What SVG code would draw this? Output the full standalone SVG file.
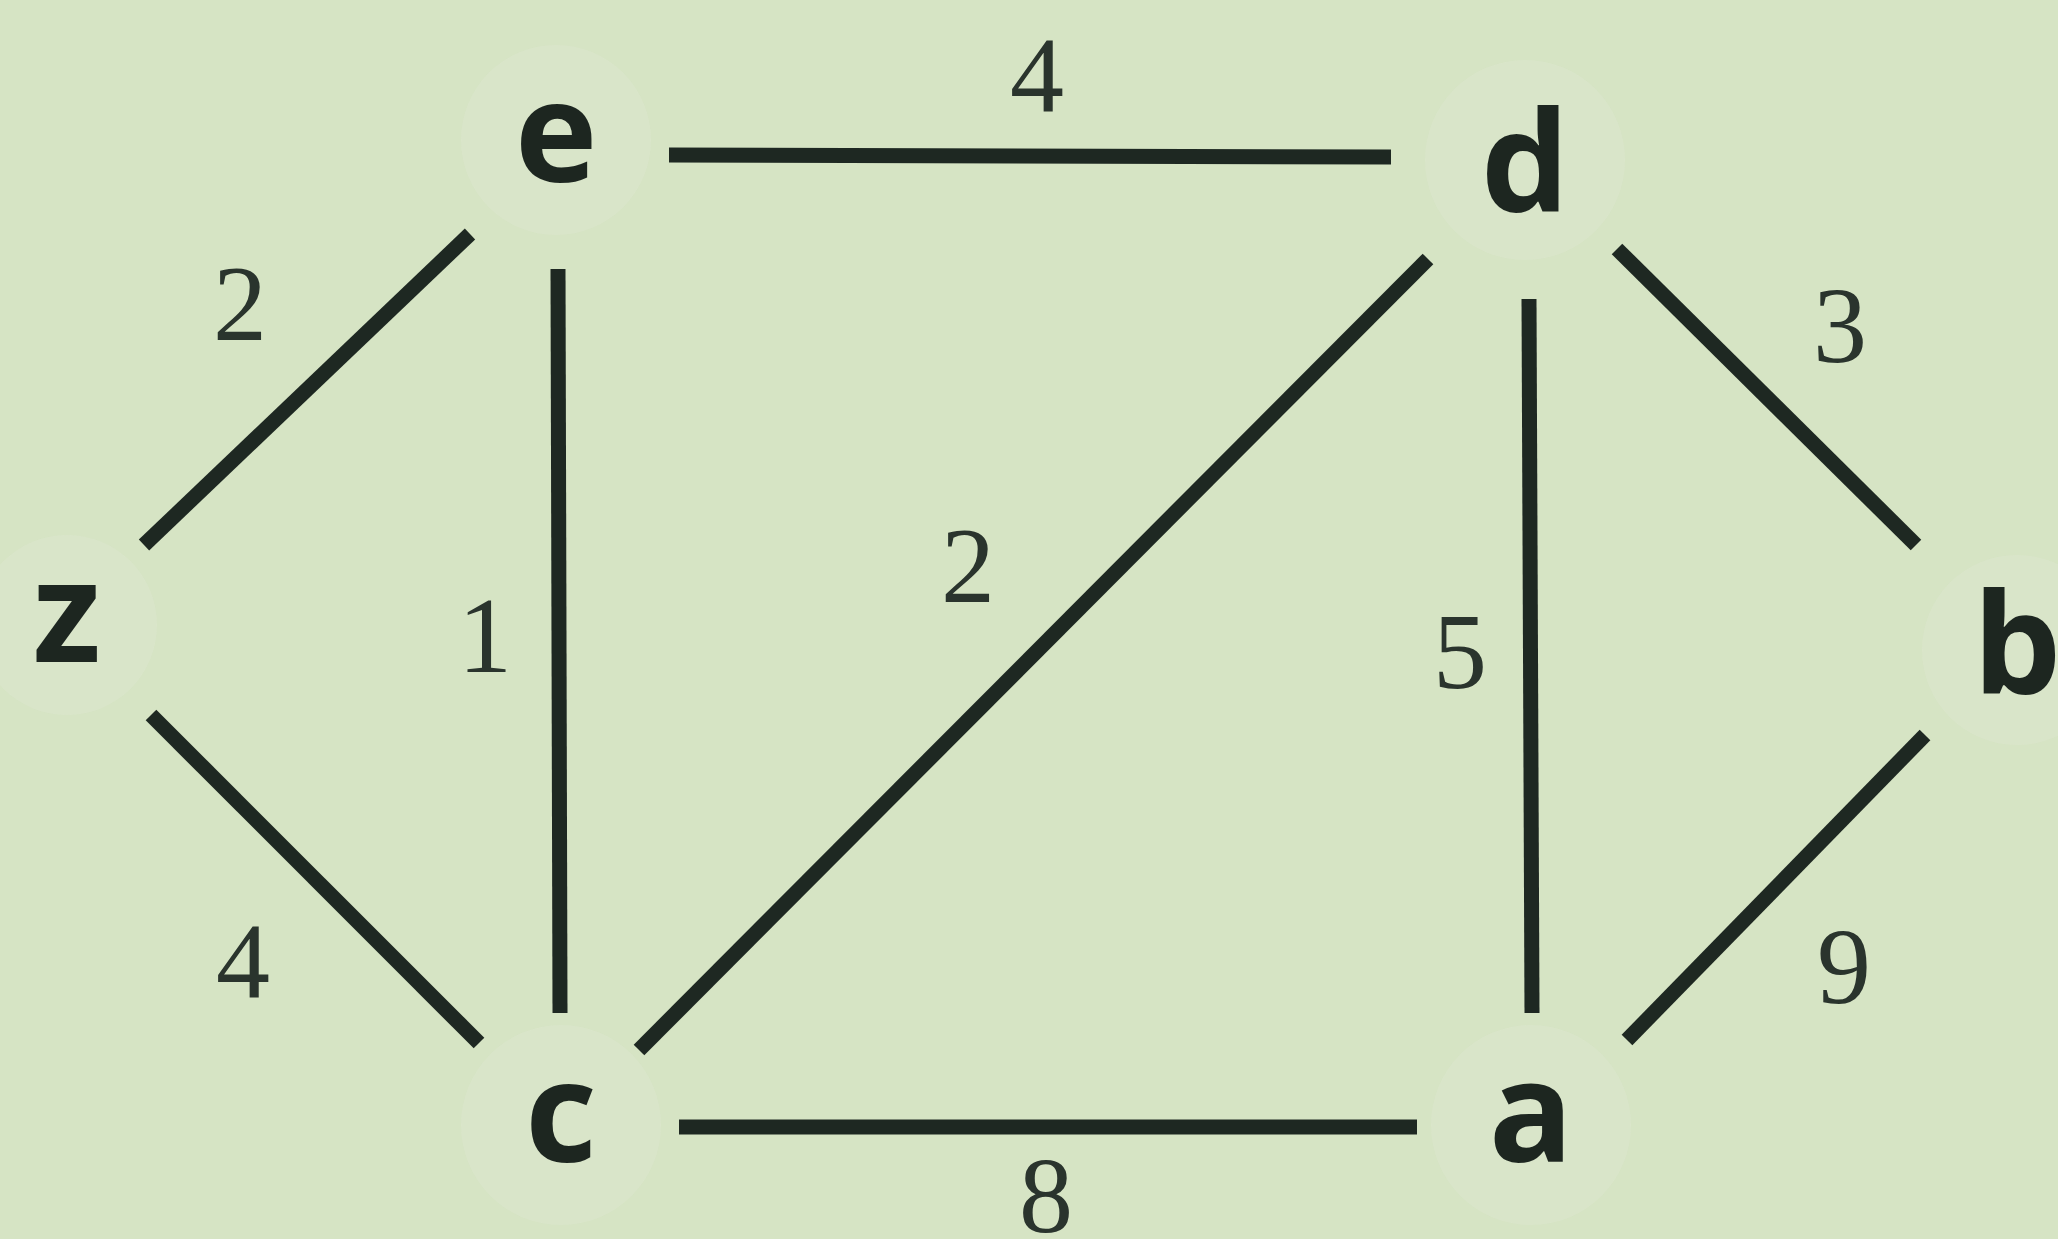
<svg xmlns="http://www.w3.org/2000/svg" width="2058" height="1239" viewBox="0 0 2058 1239">
<style>
.node text{font-family:"Open Sans","Liberation Sans",Arial,sans-serif;font-weight:700;font-size:140px;fill:#1d2620;text-anchor:middle}
.halo{fill:#dde7d1;opacity:0.45}
#edges line{stroke:#1e2822;stroke-width:15;stroke-linecap:butt}
.lbl{font-family:"Liberation Serif","Times New Roman",serif;font-size:108px;fill:#2a342d;text-anchor:middle}
</style>
<rect width="2058" height="1239" fill="#d6e4c4"/>
<g id="edges">
<line x1="669" y1="155" x2="1391" y2="157"/>
<line x1="470" y1="234" x2="144" y2="545"/>
<line x1="558" y1="269" x2="560" y2="1013"/>
<line x1="1428" y1="259" x2="639" y2="1050"/>
<line x1="1529" y1="299" x2="1532" y2="1013"/>
<line x1="1617" y1="249" x2="1916" y2="545"/>
<line x1="151" y1="715" x2="479" y2="1043"/>
<line x1="1925" y1="735" x2="1627" y2="1040"/>
<line x1="679" y1="1127" x2="1417" y2="1127"/>
</g>
<g id="labels">
<text class="lbl" x="1037" y="112">4</text>
<text class="lbl" x="240" y="340">2</text>
<text class="lbl" x="485" y="672">1</text>
<text class="lbl" x="968" y="602">2</text>
<text class="lbl" x="1460" y="688">5</text>
<text class="lbl" x="1840" y="362">3</text>
<text class="lbl" x="243" y="998">4</text>
<text class="lbl" x="1844" y="1003">9</text>
<text class="lbl" x="1046" y="1232">8</text>
</g>
<g id="node-e" class="node"><circle class="halo" cx="556" cy="140" r="95"/><text x="556" y="182">e</text></g>
<g id="node-d" class="node"><circle class="halo" cx="1525" cy="160" r="100"/><text x="1525" y="212">d</text></g>
<g id="node-z" class="node"><circle class="halo" cx="67" cy="625" r="90"/><text x="67" y="662">z</text></g>
<g id="node-b" class="node"><circle class="halo" cx="2017" cy="650" r="95"/><text x="2017" y="694">b</text></g>
<g id="node-c" class="node"><circle class="halo" cx="561" cy="1125" r="100"/><text x="561" y="1162">c</text></g>
<g id="node-a" class="node"><circle class="halo" cx="1531" cy="1125" r="100"/><text x="1531" y="1162">a</text></g>
</svg>
